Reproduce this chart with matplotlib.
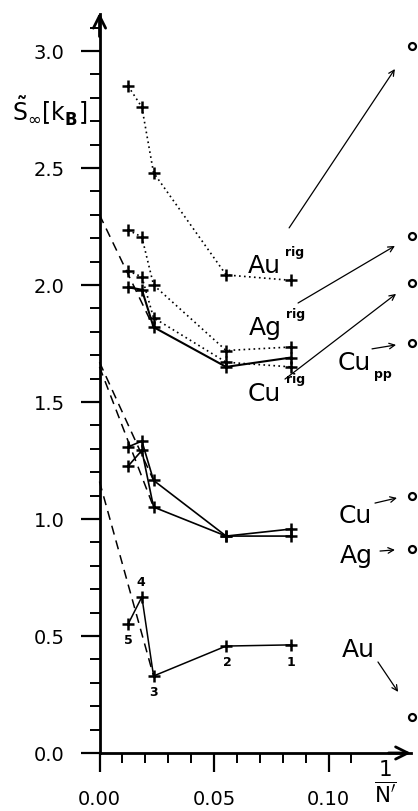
import matplotlib
matplotlib.use("Agg")
import matplotlib.pyplot as plt
import numpy as np

# 1/N' positions of the five cluster sizes (points 5,4,3,2,1)
inv_n = [0.0125, 0.0185, 0.0236, 0.0553, 0.0836]
point_labels = ['5', '4', '3', '2', '1']

# S_inf [k_B] values
au = [0.551, 0.667, 0.329, 0.457, 0.462]
cu = [1.308, 1.333, 1.165, 0.927, 0.957]
ag = [1.226, 1.293, 1.051, 0.927, 0.927]
cu_rig = [1.99, 1.98, 1.82, 1.65, 1.69]
cu_rig_b = [2.06, 2.035, 1.86, 1.67, 1.65]
ag_rig = [2.235, 2.205, 2.00, 1.72, 1.735]
au_rig = [2.85, 2.76, 2.48, 2.043, 2.02]

# dashed extrapolations to 1/N' = 0
ext_x = [0.0, 0.0236]
au_ext = [1.16, 0.329]
cu_ext = [1.67, 1.165]
ag_ext = [1.65, 1.051]
rig_ext = [2.30, 1.82]

# bulk values (open circles at right edge)
bulk_x = 0.1365
bulk_names = ['Au_rig', 'Ag_rig', 'Cu_rig', 'Cu_pp', 'Cu', 'Ag', 'Au']
bulk_vals = [3.02, 2.21, 2.01, 1.75, 1.10, 0.87, 0.154]

fontsize = 14
plt.rcParams.update({
    'font.family': 'DejaVu Sans',
    'font.size': fontsize,
    'mathtext.fontset': 'dejavusans',
})

fig = plt.figure(figsize=(4.18, 8.12), dpi=100)
ax = fig.add_axes([0, 0, 1, 1])
ax.set_xlim(-0.04345, 0.13908)
ax.set_ylim(-0.2479, 3.2222)

for s in ['top', 'right']:
    ax.spines[s].set_visible(False)
ax.spines['left'].set_position(('data', 0))
ax.spines['bottom'].set_position(('data', 0))
ax.spines['left'].set_bounds(0, 3.16)
ax.spines['bottom'].set_bounds(0, 0.136)
ax.spines['left'].set_linewidth(2)
ax.spines['bottom'].set_linewidth(2)
ax.annotate('', xy=(0, 3.175), xytext=(0, 3.05),
            arrowprops=dict(arrowstyle='->', lw=2, mutation_scale=22, color='black'))
ax.annotate('', xy=(0.1372, 0), xytext=(0.125, 0),
            arrowprops=dict(arrowstyle='->', lw=2, mutation_scale=22, color='black'))

ax.set_yticks(np.arange(0, 3.01, 0.5))
ax.set_yticklabels(['0.0', '0.5', '1.0', '1.5', '2.0', '2.5', '3.0'])
ax.set_yticks(np.arange(0, 3.11, 0.1), minor=True)
ax.set_xticks([0, 0.05, 0.10])
ax.set_xticklabels(['0.00', '0.05', '0.10'])
ax.set_xticks(np.arange(0, 0.111, 0.01), minor=True)
ax.tick_params(which='major', direction='out', length=14, width=1.6, pad=11)
ax.tick_params(which='minor', direction='out', length=7, width=1.4)
ax.tick_params(axis='x', which='major', pad=12)

# data lines
mk = dict(marker='+', markersize=8, markeredgewidth=1.8, color='black')
ax.plot(inv_n, au, linestyle='-', lw=1.1, **mk)
ax.plot(inv_n, cu, linestyle='-', lw=1.2, **mk)
ax.plot(inv_n, ag, linestyle='-', lw=1.2, **mk)
ax.plot(inv_n, cu_rig, linestyle='-', lw=1.5, **mk)
ax.plot(inv_n, cu_rig_b, linestyle=(0, (1, 2)), lw=1.2, **mk)
ax.plot(inv_n, ag_rig, linestyle=(0, (1, 2)), lw=1.2, **mk)
ax.plot(inv_n, au_rig, linestyle=(0, (1, 2)), lw=1.2, **mk)

for ys in [au_ext, cu_ext, ag_ext, rig_ext]:
    ax.plot(ext_x, ys, linestyle=(0, (6, 4)), lw=1.1, color='black')

ax.plot([bulk_x] * len(bulk_vals), bulk_vals, linestyle='none', marker='o',
        markersize=5, markerfacecolor='white', markeredgecolor='black',
        markeredgewidth=1.6)

# point numbers on the Au curve
num_pos = {'5': (0.01245, 0.483), '4': (0.0181, 0.731), '3': (0.0234, 0.261),
           '2': (0.0557, 0.393), '1': (0.0836, 0.393)}
for lab in point_labels:
    px, py = num_pos[lab]
    ax.text(px, py, lab, fontsize=9, fontweight='bold', ha='center', va='center')

# element labels
lab_fs = 18
ax.text(0.0648, 2.056, 'Au', fontsize=lab_fs, ha='left', va='baseline')
ax.text(0.0810, 2.13, 'rig', fontsize=9, fontweight='bold', ha='left', va='baseline')
ax.text(0.0653, 1.791, 'Ag', fontsize=lab_fs, ha='left', va='baseline')
ax.text(0.0815, 1.865, 'rig', fontsize=9, fontweight='bold', ha='left', va='baseline')
ax.text(0.0648, 1.508, 'Cu', fontsize=lab_fs, ha='left', va='baseline')
ax.text(0.0815, 1.585, 'rig', fontsize=9, fontweight='bold', ha='left', va='baseline')
ax.text(0.1041, 1.641, 'Cu', fontsize=lab_fs, ha='left', va='baseline')
ax.text(0.1200, 1.605, 'pp', fontsize=9, fontweight='bold', ha='left', va='baseline')
ax.text(0.1046, 0.987, 'Cu', fontsize=lab_fs, ha='left', va='baseline')
ax.text(0.1050, 0.816, 'Ag', fontsize=lab_fs, ha='left', va='baseline')
ax.text(0.1059, 0.4145, 'Au', fontsize=lab_fs, ha='left', va='baseline')

# arrows from labels to bulk values
arrows = [((0.0828, 2.244), (0.1290, 2.923)),
          ((0.0867, 1.923), (0.1290, 2.167)),
          ((0.0810, 1.598), (0.1295, 1.962)),
          ((0.1190, 1.727), (0.1295, 1.744)),
          ((0.1203, 1.068), (0.1299, 1.090)),
          ((0.1225, 0.863), (0.1290, 0.868)),
          ((0.1216, 0.389), (0.1304, 0.261))]
for start, end in arrows:
    ax.annotate('', xy=end, xytext=start,
                arrowprops=dict(arrowstyle='->', lw=0.9, color='black',
                                mutation_scale=10, shrinkA=0, shrinkB=0))

# axis labels
ax.text(-0.0216, 2.744, r'$\tilde{\mathrm{S}}_{\infty}[\mathrm{k}_{\mathbf{B}}]$',
        fontsize=17, ha='center', va='center')
ax.text(0.1247, -0.12, r'$\frac{1}{\mathrm{N}^{\prime}}$',
        fontsize=22, ha='center', va='center')

fig.savefig('out.png', dpi=100)
